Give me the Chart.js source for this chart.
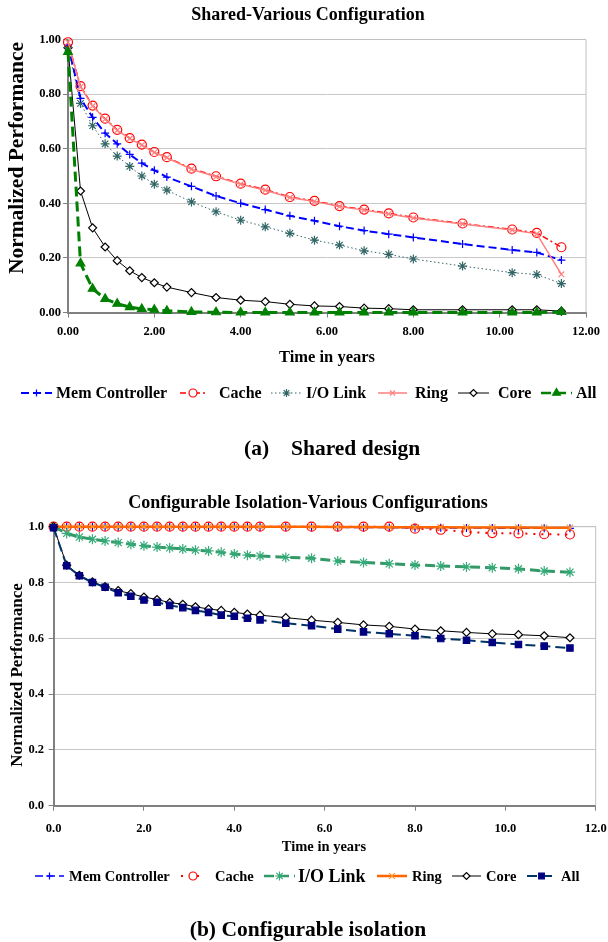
<!DOCTYPE html>
<html>
<head>
<meta charset="utf-8">
<script src="https://cdn.jsdelivr.net/npm/chart.js@4/dist/chart.umd.min.js"></script>
<style>
  body { margin: 0; background: #fff; }
  .box { position: absolute; left: 0; width: 608px; }
  #topBox { top: 0; height: 470px; }
  #botBox { top: 470px; height: 472px; }
</style>
</head>
<body>
<div class="box" id="topBox"><canvas id="top"></canvas></div>
<div class="box" id="botBox"><canvas id="bot"></canvas></div>
<script>
// series names
const names = ['Mem Controller', 'Cache', 'I/O Link', 'Ring', 'Core', 'All']

// (a) shared design
const sharedYears = [0, 0.29, 0.57, 0.86, 1.14, 1.43, 1.71, 2.00, 2.29, 2.86, 3.43, 4.00, 4.57, 5.14, 5.71, 6.29, 6.86, 7.43, 8.00, 9.14, 10.29, 10.86, 11.43]
const sharedMem   = [0.98, 0.784, 0.715, 0.657, 0.618, 0.579, 0.547, 0.521, 0.496, 0.462, 0.427, 0.400, 0.377, 0.354, 0.336, 0.316, 0.300, 0.287, 0.275, 0.251, 0.229, 0.220, 0.192]
const sharedCache = [0.99, 0.829, 0.758, 0.710, 0.669, 0.639, 0.615, 0.588, 0.569, 0.527, 0.499, 0.472, 0.450, 0.423, 0.409, 0.390, 0.377, 0.363, 0.348, 0.326, 0.304, 0.292, 0.239]
const sharedIO    = [0.97, 0.766, 0.684, 0.618, 0.573, 0.535, 0.500, 0.470, 0.448, 0.405, 0.369, 0.338, 0.314, 0.290, 0.265, 0.247, 0.226, 0.213, 0.196, 0.170, 0.146, 0.139, 0.106]
const sharedRing  = [0.99, 0.826, 0.756, 0.708, 0.667, 0.637, 0.613, 0.586, 0.567, 0.525, 0.497, 0.470, 0.448, 0.421, 0.407, 0.388, 0.375, 0.361, 0.346, 0.324, 0.302, 0.288, 0.140]
const sharedCore  = [0.97, 0.445, 0.310, 0.240, 0.190, 0.153, 0.128, 0.109, 0.093, 0.073, 0.055, 0.045, 0.040, 0.030, 0.024, 0.022, 0.016, 0.014, 0.010, 0.010, 0.010, 0.010, 0.005]
const sharedAll   = [0.955, 0.180, 0.087, 0.050, 0.032, 0.020, 0.013, 0.010, 0.006, 0.002, 0.001, 0, 0, 0, 0, 0, 0, 0, 0, 0, 0, 0, 0.002]

// (b) configurable isolation
const isoYears = [0, 0.29, 0.57, 0.86, 1.14, 1.43, 1.71, 2.00, 2.29, 2.57, 2.86, 3.14, 3.43, 3.71, 4.00, 4.29, 4.57, 5.14, 5.71, 6.29, 6.86, 7.43, 8.00, 8.57, 9.14, 9.71, 10.29, 10.86, 11.43]
const isoMem   = [1, 1, 1, 1, 1, 1, 1, 1, 1, 1, 1, 1, 1, 1, 1, 1, 0.999, 0.999, 0.998, 0.998, 0.997, 0.997, 0.996, 0.996, 0.995, 0.995, 0.994, 0.994, 0.994]
const isoCache = [1, 1, 1, 1, 1, 1, 1, 1, 1, 1, 1, 1, 1, 1, 1, 1, 1, 1, 1, 1, 1, 1, 0.993, 0.989, 0.981, 0.977, 0.976, 0.973, 0.972]
const isoIO    = [1, 0.976, 0.963, 0.955, 0.949, 0.943, 0.937, 0.932, 0.927, 0.924, 0.920, 0.916, 0.913, 0.908, 0.902, 0.898, 0.895, 0.890, 0.887, 0.877, 0.872, 0.867, 0.863, 0.859, 0.856, 0.853, 0.849, 0.841, 0.837]
const isoRing  = [1, 1, 1, 1, 1, 1, 1, 1, 1, 1, 1, 1, 1, 1, 1, 1, 1, 1, 1, 0.999, 0.999, 0.998, 0.998, 0.998, 0.997, 0.997, 0.997, 0.996, 0.996]
const isoCore  = [1, 0.862, 0.826, 0.802, 0.785, 0.771, 0.760, 0.748, 0.739, 0.728, 0.722, 0.713, 0.705, 0.700, 0.693, 0.687, 0.683, 0.674, 0.665, 0.657, 0.648, 0.643, 0.633, 0.627, 0.621, 0.616, 0.613, 0.609, 0.602]
const isoAll   = [0.996, 0.860, 0.824, 0.800, 0.783, 0.763, 0.751, 0.737, 0.729, 0.718, 0.710, 0.700, 0.693, 0.683, 0.679, 0.672, 0.666, 0.654, 0.645, 0.633, 0.623, 0.616, 0.609, 0.599, 0.593, 0.585, 0.578, 0.572, 0.565]

const serif = "'Liberation Serif', 'Times New Roman', serif"

function pts(xs, ys) {
  return xs.map((x, i) => ({x: x, y: ys[i]}))
}

// line + marker styles per series
const topStyles = [
  {line: '#0000FF', lw: 2, dash: [8, 4], marker: 'cross', r: 4, fill: '#0000FF', stroke: '#0000FF', order: 3},
  {line: '#FF0000', lw: 1.5, dash: [6, 3, 2, 3], marker: 'circle', r: 4.5, fill: 'rgba(0,0,0,0)', stroke: '#FF0000', order: 2},
  {line: '#336666', lw: 1, dash: [1.5, 2.5], marker: 'star', r: 4.5, fill: '#336666', stroke: '#336666', order: 4},
  {line: '#FF8080', lw: 1.5, dash: [], marker: 'crossRot', r: 4, fill: '#FF8080', stroke: '#FF8080', order: 1},
  {line: '#000000', lw: 1, dash: [], marker: 'rectRot', r: 4, fill: '#FFFFFF', stroke: '#000000', order: 5},
  {line: '#008000', lw: 3, dash: [10, 5], marker: 'triangle', r: 5, fill: '#008000', stroke: '#008000', order: 0}
]
const botStyles = [
  {line: '#0000FF', lw: 1.5, dash: [8, 4], marker: 'cross', r: 4, fill: '#0000FF', stroke: '#0000FF', order: 6},
  {line: '#FF0000', lw: 2, dash: [2, 6], marker: 'circle', r: 4.5, fill: 'rgba(0,0,0,0)', stroke: '#FF0000', order: 5},
  {line: '#339966', lw: 3, dash: [10, 5], marker: 'star', r: 5, fill: '#33CC99', stroke: '#33AA77', order: 4},
  {line: '#FF6600', lw: 2.5, dash: [], marker: 'crossRot', r: 4.5, fill: '#FF9933', stroke: '#FF9933', order: 3},
  {line: '#000000', lw: 1, dash: [], marker: 'rectRot', r: 4, fill: '#FFFFFF', stroke: '#000000', order: 2},
  {line: '#003366', lw: 2, dash: [10, 5], marker: 'rect', r: 4.5, fill: '#000080', stroke: '#000080', order: 1}
]

function makeSets(xs, series, styles) {
  return series.map((ys, i) => {
    let s = styles[i]
    return {
      label: names[i],
      data: pts(xs, ys),
      borderColor: s.line,
      borderWidth: s.lw,
      borderDash: s.dash,
      pointStyle: s.marker,
      pointRadius: s.r,
      pointBackgroundColor: s.fill,
      pointBorderColor: s.stroke,
      pointBorderWidth: 1.2,
      tension: 0,
      fill: false,
      clip: false,
      order: s.order
    }
  })
}

// text + legend drawn on the canvas
function textPlugin(cfg) {
  return {
    id: 'texts',
    beforeDatasetsDraw(chart) {
      let a = chart.chartArea
      let ctx = chart.ctx
      ctx.save()
      ctx.strokeStyle = '#C0C0C0'
      ctx.lineWidth = 1
      ctx.beginPath()
      ctx.moveTo(a.left, a.top); ctx.lineTo(a.right, a.top); ctx.lineTo(a.right, a.bottom)
      ctx.stroke()
      ctx.restore()
    },
    afterDraw(chart) {
      let ctx = chart.ctx
      ctx.save()
      ctx.fillStyle = '#000'
      ctx.textBaseline = 'middle'
      ctx.textAlign = 'center'
      ctx.font = 'bold ' + cfg.titleSize + 'px ' + serif
      ctx.fillText(cfg.title, cfg.titleX, cfg.titleY)
      ctx.font = 'bold ' + cfg.xTitleSize + 'px ' + serif
      ctx.fillText('Time in years', cfg.xTitleX, cfg.xTitleY)
      ctx.save()
      ctx.translate(cfg.yTitleX, cfg.yTitleY)
      ctx.rotate(-Math.PI / 2)
      ctx.font = 'bold ' + cfg.yTitleSize + 'px ' + serif
      ctx.fillText('Normalized Performance', 0, 0)
      ctx.restore()
      // caption
      ctx.font = 'bold ' + cfg.capSize + 'px ' + serif
      ctx.textAlign = cfg.capAlign
      cfg.caption.forEach(c => ctx.fillText(c[0], c[1], cfg.capY))
      // legend
      cfg.keys.forEach((k, i) => {
        let s = cfg.styles[i]
        let y = cfg.legendY
        ctx.save()
        ctx.strokeStyle = s.line
        ctx.lineWidth = Math.min(s.lw, 2.5)
        ctx.setLineDash(s.dash)
        ctx.beginPath()
        ctx.moveTo(k[0], y); ctx.lineTo(k[1], y)
        ctx.stroke()
        ctx.setLineDash([])
        ctx.fillStyle = s.fill === 'rgba(0,0,0,0)' ? '#FFFFFF' : s.fill
        ctx.strokeStyle = s.stroke
        ctx.lineWidth = 1.2
        Chart.helpers.drawPoint(ctx, {pointStyle: s.marker, radius: s.r - 0.5, rotation: 0, borderWidth: 1.2}, (k[0] + k[1]) / 2, y)
        ctx.restore()
        ctx.fillStyle = '#000'
        ctx.textAlign = 'left'
        ctx.font = 'bold ' + (k[3] || cfg.legendSize) + 'px ' + serif
        ctx.fillText(names[i], k[2], y + 1)
      })
      ctx.restore()
    }
  }
}

function makeChart(id, xs, series, styles, area, h, fmt, tickPad, cfg) {
  let axisFont = {family: serif, weight: 'bold', size: 12.5}
  return new Chart(document.getElementById(id), {
    type: 'line',
    data: {datasets: makeSets(xs, series, styles)},
    options: {
      responsive: true,
      maintainAspectRatio: false,
      animation: false,
      layout: {padding: {left: 0, right: 608 - area.right, top: area.top, bottom: h - area.bottom - 30}},
      plugins: {legend: {display: false}, title: {display: false}, tooltip: {enabled: false}},
      scales: {
        x: {
          type: 'linear', min: 0, max: 12,
          afterFit: (s) => { s.height = 30; s.paddingLeft = 0; s.paddingRight = 0 },
          ticks: {stepSize: 2, font: axisFont, color: '#000', padding: tickPad[0], maxRotation: 0, callback: (v) => v.toFixed(fmt)},
          grid: {drawOnChartArea: false, drawTicks: true, tickLength: 5, tickColor: '#808080'},
          border: {color: '#808080', width: 2}
        },
        y: {
          min: 0, max: 1,
          afterFit: (s) => { s.width = area.left; s.paddingTop = 0; s.paddingBottom = 0 },
          ticks: {stepSize: 0.2, font: axisFont, color: '#000', padding: tickPad[1], callback: (v) => v.toFixed(fmt)},
          grid: {color: '#C8C8C8', lineWidth: 1, drawTicks: true, tickLength: 5, tickColor: '#808080'},
          border: {color: '#808080', width: 2}
        }
      }
    },
    plugins: [textPlugin(cfg)]
  })
}

makeChart('top', sharedYears,
  [sharedMem, sharedCache, sharedIO, sharedRing, sharedCore, sharedAll], topStyles,
  {left: 68, right: 586, top: 39.5, bottom: 312.5}, 470, 2, [7, 2],
  {
    title: 'Shared-Various Configuration', titleSize: 18, titleX: 308, titleY: 15,
    xTitleSize: 16.5, xTitleX: 327, xTitleY: 358,
    yTitleSize: 21.5, yTitleX: 17, yTitleY: 158,
    caption: [['(a)', 244], ['Shared design', 291]], capAlign: 'left', capSize: 21.5, capY: 449,
    legendY: 393, legendSize: 16, styles: topStyles,
    keys: [[21, 52, 56], [180, 206, 219], [271, 302, 306], [378, 407, 415], [458, 489, 498], [541, 572, 576]]
  })

makeChart('bot', isoYears,
  [isoMem, isoCache, isoIO, isoRing, isoCore, isoAll], botStyles,
  {left: 53.6, right: 595.7, top: 56.7, bottom: 335.7}, 472, 1, [11, 4.6],
  {
    title: 'Configurable Isolation-Various Configurations', titleSize: 18, titleX: 308, titleY: 33,
    xTitleSize: 14.5, xTitleX: 324, xTitleY: 377,
    yTitleSize: 17, yTitleX: 18, yTitleY: 205,
    caption: [['(b) Configurable isolation', 308]], capAlign: 'center', capSize: 21.5, capY: 460,
    legendY: 406, legendSize: 14.5, styles: botStyles,
    keys: [[35, 64, 69], [181, 205, 215], [264, 295, 298, 18], [377, 407, 412], [452, 481, 486], [527, 556, 561]]
  })
</script>
</body>
</html>
